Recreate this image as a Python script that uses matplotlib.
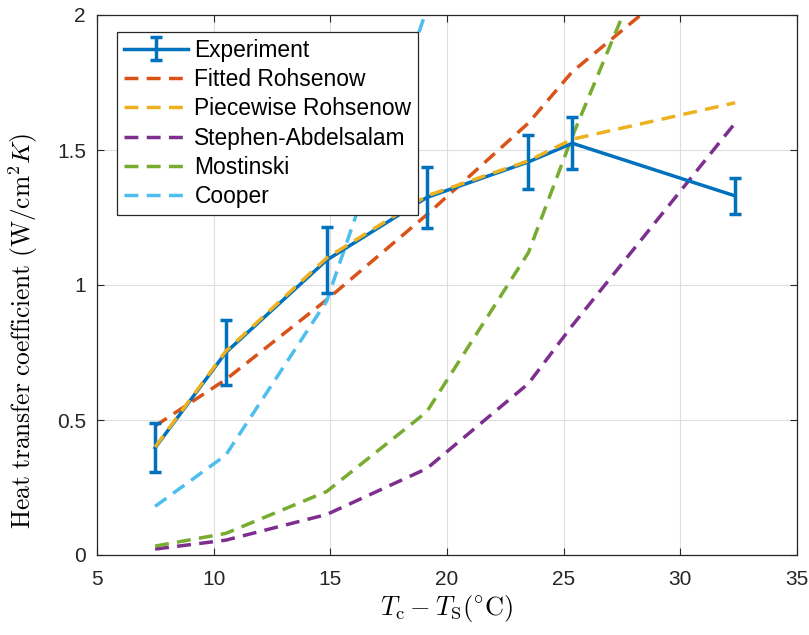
import matplotlib
matplotlib.use("Agg")
import matplotlib.pyplot as plt

# temperature difference T_c - T_s (degC)
dT = [7.49, 10.52, 14.84, 19.13, 23.49, 25.37, 32.35]

# heat transfer coefficient (W/cm^2 K)
experiment = [0.397, 0.75, 1.092, 1.324, 1.456, 1.525, 1.33]
exp_err = [0.091, 0.12, 0.122, 0.114, 0.10, 0.097, 0.068]
fitted_rohsenow = [0.478, 0.65, 0.945, 1.26, 1.60, 1.79, 2.29]
piecewise_rohsenow = [0.40, 0.755, 1.10, 1.33, 1.46, 1.54, 1.675]
stephen_abdelsalam = [0.022, 0.055, 0.15, 0.32, 0.635, 0.85, 1.60]
mostinski = [0.033, 0.08, 0.235, 0.53, 1.12, 1.55, 3.0]
cooper = [0.18, 0.37, 0.94, 2.02, 3.4, 4.1, 6.5]

plt.rcParams['mathtext.fontset'] = 'cm'
plt.rcParams['font.family'] = ['Liberation Sans', 'DejaVu Sans']

fig = plt.figure(figsize=(8.09, 6.35), dpi=100)
ax = fig.add_axes([97/809, 80/635, 700/809, 540/635])

lw = 2.5
dash = (0, (4, 2.4))

h_exp = ax.errorbar(dT, experiment, yerr=exp_err, color='#0072BD', lw=lw,
                    capsize=4.5, capthick=lw, elinewidth=lw, label='Experiment', zorder=3)
ax.plot(dT, fitted_rohsenow, color='#D95319', lw=lw, ls=dash, label='Fitted Rohsenow')
ax.plot(dT, piecewise_rohsenow, color='#EDB120', lw=lw, ls=dash, label='Piecewise Rohsenow', zorder=4)
ax.plot(dT, stephen_abdelsalam, color='#7E2F8E', lw=lw, ls=dash, label='Stephen-Abdelsalam')
ax.plot(dT, mostinski, color='#77AC30', lw=lw, ls=dash, label='Mostinski')
ax.plot(dT, cooper, color='#4DBEEE', lw=lw, ls=dash, label='Cooper')

ax.set_xlim(5, 35)
ax.set_ylim(0, 2)
ax.set_xticks([5, 10, 15, 20, 25, 30, 35])
ax.set_yticks([0, 0.5, 1, 1.5, 2])
ax.set_yticklabels(['0', '0.5', '1', '1.5', '2'])

ax.grid(True, color='#dedede', lw=0.8)
ax.set_axisbelow(True)
ax.tick_params(direction='in', length=5, width=0.8, top=True, right=True,
               labelsize=15, colors='#262626')
ax.tick_params(axis='x', pad=11)
ax.tick_params(axis='y', pad=8)
for s in ax.spines.values():
    s.set_color('#262626')
    s.set_linewidth(0.9)

ax.set_xlabel(r'$T_{\mathrm{c}}-T_{\mathrm{S}}(^{\circ}\mathrm{C})$', fontsize=19, labelpad=3)
ax.set_ylabel(r'$\mathrm{Heat\ transfer\ coefficient\ (W/cm^2}K\mathrm{)}$', fontsize=18.3)
ax.yaxis.set_label_coords(-0.081, 0.415)

# experiment first in the legend, like the original
handles, labels = ax.get_legend_handles_labels()
order = [labels.index('Experiment')] + [i for i in range(len(labels)) if labels[i] != 'Experiment']
leg = ax.legend([handles[i] for i in order], [labels[i] for i in order],
                loc='upper left', bbox_to_anchor=(0.0286, 0.969), borderaxespad=0,
                fontsize=16.4, handlelength=2.8, handletextpad=0.3, labelspacing=0.28,
                borderpad=0.3, fancybox=False, framealpha=1, edgecolor='#262626')
leg.get_frame().set_linewidth(0.9)

plt.savefig("out.png", dpi=100)
